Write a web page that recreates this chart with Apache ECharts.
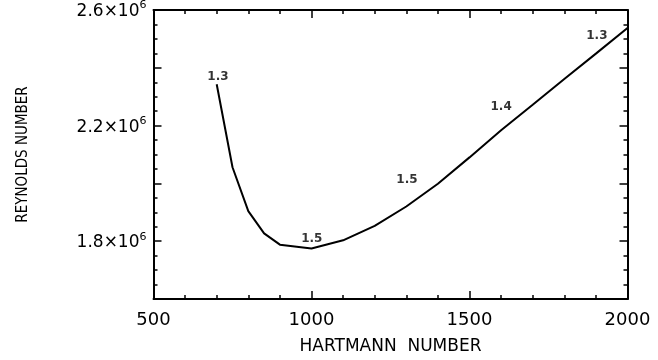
<!DOCTYPE html>
<html>
<head>
<meta charset="utf-8">
<script src="https://cdn.jsdelivr.net/npm/echarts@6/dist/echarts.min.js"></script>
<style>
html,body{margin:0;padding:0;background:#fff;}
#c{width:658px;height:360px;}
</style>
</head>
<body>
<div id="c"></div>
<script>
// Hartmann number (x) and Reynolds number (y, units of 1e6)
var hartmann = [700, 750, 800, 850, 900, 1000, 1100, 1200, 1300, 1400, 1500, 1600, 1700, 1800, 1900, 2000];
var reynolds = [2.343, 2.056, 1.904, 1.827, 1.788, 1.775, 1.803, 1.853, 1.920, 1.999, 2.090, 2.184, 2.272, 2.361, 2.449, 2.538];
// annotation labels along the curve
var noteH = [704, 1001, 1302, 1600, 1903];
var noteRe = [2.367, 1.809, 2.012, 2.266, 2.512];
var noteText = ['1.3', '1.5', '1.5', '1.4', '1.3'];
// labelled y ticks (units of 1e6)
var yLabelled = [1.8, 2.2, 2.6];

var lineData = hartmann.map(function (h, i) { return [h, reynolds[i] * 1e6]; });
var noteData = noteH.map(function (h, i) { return { name: noteText[i], value: [h, noteRe[i] * 1e6] }; });

var tickFont = 'DejaVu Sans';
var chart = echarts.init(document.getElementById('c'), null, { renderer: 'canvas' });
var axisLineStyle = { color: '#000', width: 2 };
chart.setOption({
  backgroundColor: '#fff',
  animation: false,
  grid: { left: 153.5, right: 30.5, top: 9, bottom: 55, containLabel: false },
  xAxis: [{
    type: 'value', min: 500, max: 2000, interval: 500,
    axisLine: { show: true, lineStyle: axisLineStyle },
    axisTick: { show: true, inside: true, length: 8, lineStyle: { color: '#000', width: 1.5 } },
    minorTick: { show: true, splitNumber: 5, length: 4, lineStyle: { color: '#000', width: 1.5 } },
    splitLine: { show: false },
    axisLabel: { color: '#000', fontFamily: tickFont, fontSize: 18, margin: 12, formatter: function (v) { return String(v); } },
    name: 'HARTMANN  NUMBER', nameLocation: 'middle', nameGap: 39,
    nameTextStyle: { color: '#000', fontFamily: tickFont, fontSize: 17 }
  }, {
    type: 'value', position: 'top', min: 500, max: 2000, interval: 500,
    axisLine: { show: true, onZero: false, lineStyle: axisLineStyle },
    axisTick: { show: true, inside: true, length: 8, lineStyle: { color: '#000', width: 1.5 } },
    minorTick: { show: true, splitNumber: 5, length: 4, lineStyle: { color: '#000', width: 1.5 } },
    splitLine: { show: false }, axisLabel: { show: false }
  }],
  yAxis: [{
    type: 'value', min: 1.6e6, max: 2.6e6, interval: 0.2e6,
    axisLine: { show: true, onZero: false, lineStyle: axisLineStyle },
    axisTick: { show: true, inside: true, length: 8, lineStyle: { color: '#000', width: 1.5 } },
    minorTick: { show: true, splitNumber: 4, length: 4, lineStyle: { color: '#000', width: 1.5 } },
    splitLine: { show: false },
    axisLabel: {
      margin: 7, color: '#000',
      formatter: function (v) {
        var m = Math.round(v / 1e5) / 10;
        if (yLabelled.indexOf(m) < 0) return '';
        return '{a|' + m.toFixed(1) + '×10}{s|6}';
      },
      rich: {
        a: { fontFamily: tickFont, fontSize: 17, color: '#000', lineHeight: 20, verticalAlign: 'bottom' },
        s: { fontFamily: tickFont, fontSize: 11, color: '#000', lineHeight: 20, verticalAlign: 'top', padding: [0, 0, 4, 0] }
      }
    },
    name: 'REYNOLDS NUMBER', nameLocation: 'middle', nameGap: 123, nameRotate: 90,
    nameTextStyle: { color: '#000', fontFamily: "'Liberation Sans Narrow', 'DejaVu Sans Condensed', 'Liberation Sans', sans-serif", fontSize: 15 }
  }, {
    type: 'value', position: 'right', min: 1.6e6, max: 2.6e6, interval: 0.2e6,
    axisLine: { show: true, onZero: false, lineStyle: axisLineStyle },
    axisTick: { show: true, inside: true, length: 8, lineStyle: { color: '#000', width: 1.5 } },
    minorTick: { show: true, splitNumber: 4, length: 4, lineStyle: { color: '#000', width: 1.5 } },
    splitLine: { show: false }, axisLabel: { show: false }
  }],
  series: [{
    type: 'line', data: lineData, showSymbol: false, smooth: false,
    lineStyle: { color: '#000', width: 2 }, z: 3
  }, {
    type: 'scatter', data: noteData, symbolSize: 0, z: 4,
    label: {
      show: true, position: 'inside', formatter: '{b}', color: '#000',
      fontFamily: 'DejaVu Sans', fontWeight: 'bold', fontSize: 12
    }
  }]
});
</script>
</body>
</html>
